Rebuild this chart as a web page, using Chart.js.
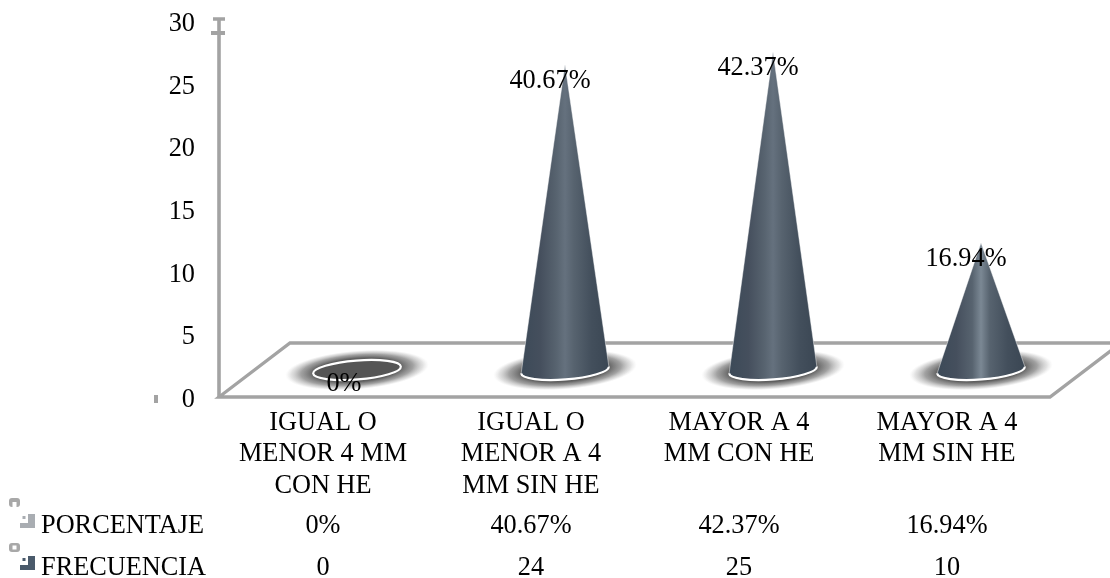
<!DOCTYPE html>
<html>
<head>
<meta charset="utf-8">
<style>
  html, body { margin: 0; padding: 0; background: #fff; }
  #wrap { width: 1110px; height: 578px; }
</style>
<script src="https://cdn.jsdelivr.net/npm/chart.js@4/dist/chart.umd.min.js"></script>
</head>
<body>
<div id="wrap"><canvas id="chart" width="1110" height="578"></canvas></div>
<script>
const categories = [
  ['IGUAL O', 'MENOR 4 MM', 'CON HE'],
  ['IGUAL O', 'MENOR A 4', 'MM SIN HE'],
  ['MAYOR A 4', 'MM CON HE'],
  ['MAYOR A 4', 'MM SIN HE']
];
const frecuencia = [0, 24, 25, 10];
const porcentaje = ['0%', '40.67%', '42.37%', '16.94%'];
const yTicks = [0, 5, 10, 15, 20, 25, 30];

const FONT = '"Liberation Serif", "Times New Roman", serif';
const TEXT_SIZE = 26.3;
const AXIS_GREY = '#a3a3a3';

// Oblique projection of the chart floor
const DEPTH_X = 71;
const DEPTH_Y = 54;
// Cones stand in the middle of the floor, on a plane with its own value scale
const CONE_SHIFT = 34;
const PLANE_ZERO_OFFSET = 27;
const PLANE_UNIT = 12.73;

const BASE_RX = 44;
const BASE_RY = 9.5;
const BASE_TILT = -4.5 * Math.PI / 180;

function drawFloor(ctx, area) {
  const { left, right, bottom } = area;
  ctx.save();
  ctx.strokeStyle = AXIS_GREY;
  ctx.lineWidth = 3.3;
  ctx.lineJoin = 'miter';
  ctx.beginPath();
  ctx.moveTo(left, bottom);
  ctx.lineTo(right - 1, bottom);
  ctx.lineTo(right - 1 + DEPTH_X, bottom - DEPTH_Y);
  ctx.lineTo(left + DEPTH_X, bottom - DEPTH_Y);
  ctx.closePath();
  ctx.stroke();
  ctx.restore();
}

function drawWallCaps(ctx, area) {
  // Short caps at the head of the vertical axis
  ctx.save();
  ctx.strokeStyle = AXIS_GREY;
  ctx.lineWidth = 3.6;
  ctx.beginPath();
  ctx.moveTo(area.left, area.bottom);
  ctx.lineTo(area.left, area.top - 2);
  ctx.moveTo(area.left - 6, area.top - 2);
  ctx.lineTo(area.left + 6, area.top - 2);
  ctx.stroke();
  ctx.lineWidth = 4;
  ctx.beginPath();
  ctx.moveTo(area.left - 8, area.top + 12);
  ctx.lineTo(area.left + 6, area.top + 12);
  ctx.stroke();
  ctx.fillStyle = AXIS_GREY;
  ctx.fillRect(area.left - 65, area.bottom - 2, 4, 8);
  ctx.restore();
}

function drawShadow(ctx, cx, cy) {
  ctx.save();
  ctx.translate(cx, cy);
  ctx.rotate(BASE_TILT);
  ctx.scale(1, 0.27);
  const g = ctx.createRadialGradient(0, 0, 0, 0, 0, 72);
  g.addColorStop(0, 'rgba(95,95,95,1)');
  g.addColorStop(0.6, 'rgba(95,95,95,1)');
  g.addColorStop(0.78, 'rgba(130,130,130,0.75)');
  g.addColorStop(0.92, 'rgba(175,175,175,0.35)');
  g.addColorStop(1, 'rgba(210,210,210,0)');
  ctx.fillStyle = g;
  ctx.beginPath();
  ctx.arc(0, 0, 72, 0, Math.PI * 2);
  ctx.fill();
  ctx.restore();
}

function drawCone(ctx, cx, cy, apexY, highlight) {
  const left = cx - BASE_RX, right = cx + BASE_RX;
  const g = ctx.createLinearGradient(left, 0, right, 0);
  g.addColorStop(0, '#3c4a58');
  g.addColorStop(0.22, '#454f5d');
  g.addColorStop(0.4, '#57636f');
  g.addColorStop(0.5, highlight);
  g.addColorStop(0.6, '#57636f');
  g.addColorStop(0.8, '#434f5c');
  g.addColorStop(1, '#3a4653');
  ctx.save();
  ctx.beginPath();
  ctx.moveTo(cx, apexY);
  ctx.ellipse(cx, cy, BASE_RX, BASE_RY, BASE_TILT, 0, Math.PI);
  ctx.closePath();
  ctx.fillStyle = g;
  ctx.fill();
  ctx.strokeStyle = 'rgba(255,255,255,0.55)';
  ctx.lineWidth = 0.8;
  ctx.stroke();
  ctx.strokeStyle = '#ffffff';
  ctx.lineWidth = 2.2;
  ctx.beginPath();
  ctx.ellipse(cx, cy, BASE_RX, BASE_RY, BASE_TILT, 0, Math.PI);
  ctx.stroke();
  ctx.restore();
}

function drawDisc(ctx, cx, cy) {
  ctx.save();
  ctx.beginPath();
  ctx.ellipse(cx, cy, BASE_RX, BASE_RY, BASE_TILT, 0, Math.PI * 2);
  ctx.fillStyle = '#555555';
  ctx.fill();
  ctx.strokeStyle = '#ffffff';
  ctx.lineWidth = 2.2;
  ctx.stroke();
  ctx.restore();
}

function drawLegendKey(ctx, x, y, colour, markerY, open) {
  // Series swatch: a stepped corner and a dot, with a small marker above and to the left
  ctx.save();
  ctx.fillStyle = colour;
  ctx.fillRect(x, y - 3, 15, 5);
  ctx.fillRect(x + 8, y - 12, 7, 11);
  ctx.fillRect(x + 2.5, y - 10, 3, 3);
  ctx.fillStyle = '#a8a8a8';
  ctx.beginPath();
  ctx.roundRect(x - 11, markerY, 11, 9, 3);
  ctx.fill();
  ctx.fillStyle = '#ffffff';
  if (open) ctx.fillRect(x - 7.5, markerY + 4, 4, 5);
  else ctx.fillRect(x - 7.5, markerY + 2.5, 4, 4);
  ctx.restore();
}

const conePlugin = {
  id: 'cones',
  beforeDatasetsDraw(chart) {
    const { ctx, chartArea } = chart;
    drawFloor(ctx, chartArea);
    drawWallCaps(ctx, chartArea);
    const meta = chart.getDatasetMeta(0);
    meta.data.forEach((bar) => drawShadow(ctx, bar.x + CONE_SHIFT, bar.base));
    meta.data.forEach((bar, i) => {
      const cx = bar.x + CONE_SHIFT;
      if (frecuencia[i] === 0) drawDisc(ctx, cx, bar.base);
      else drawCone(ctx, cx, bar.base, bar.y, frecuencia[i] < 15 ? '#7b8894' : '#65717e');
    });
  },
  afterDatasetsDraw(chart) {
    const { ctx } = chart;
    const meta = chart.getDatasetMeta(0);
    ctx.save();
    ctx.font = TEXT_SIZE + 'px ' + FONT;
    ctx.fillStyle = '#000000';
    ctx.textAlign = 'center';
    ctx.textBaseline = 'middle';
    // Value labels sit just below and left of each apex
    meta.data.forEach((bar, i) => {
      const zero = frecuencia[i] === 0;
      ctx.fillText(porcentaje[i], bar.x + CONE_SHIFT - (zero ? 13 : 15), bar.y + (zero ? 14 : 16.5));
    });
    // Data table beneath the category axis
    const rows = [
      { name: 'PORCENTAJE', cells: porcentaje, y: 526, key: '#a9adb2', markerY: 498, open: true },
      { name: 'FRECUENCIA', cells: frecuencia, y: 568, key: '#4a5a6b', markerY: 543, open: false }
    ];
    const xs = chart.scales.x;
    rows.forEach((row) => {
      ctx.textAlign = 'left';
      ctx.fillText(row.name, 41, row.y);
      ctx.textAlign = 'center';
      row.cells.forEach((c, i) => ctx.fillText(String(c), xs.getPixelForTick(i), row.y));
      drawLegendKey(ctx, 20, row.y, row.key, row.markerY, row.open);
    });
    ctx.restore();
  }
};

new Chart(document.getElementById('chart'), {
  type: 'bar',
  data: {
    labels: categories,
    datasets: [{
      label: 'FRECUENCIA',
      data: frecuencia,
      yAxisID: 'plane',
      backgroundColor: 'rgba(0,0,0,0)',
      borderWidth: 0
    }]
  },
  plugins: [conePlugin],
  options: {
    responsive: false,
    animation: false,
    layout: { padding: { top: 21, right: 59, bottom: 0, left: 0 } },
    plugins: { legend: { display: false }, tooltip: { enabled: false }, title: { display: false } },
    scales: {
      x: {
        grid: { display: false, drawTicks: false },
        border: { display: false },
        ticks: {
          autoRotate: false, maxRotation: 0, autoSkip: false, padding: 10,
          color: '#000000',
          font: { family: FONT, size: TEXT_SIZE, lineHeight: 1.2 }
        },
        afterFit(s) { s.height = 181; s.paddingLeft = 0; s.paddingRight = 0; }
      },
      y: {
        position: 'left',
        min: 0,
        max: 30,
        grid: { display: false, drawTicks: false },
        border: { display: false },
        afterBuildTicks(s) { s.ticks = yTicks.map((value) => ({ value })); },
        ticks: {
          padding: 24,
          labelOffset: 3,
          color: '#000000',
          font: { family: FONT, size: TEXT_SIZE }
        },
        afterFit(s) { s.width = 219; s.paddingTop = 0; s.paddingBottom = 0; }
      },
      plane: {
        display: false,
        min: -PLANE_ZERO_OFFSET / PLANE_UNIT,
        max: (376 - PLANE_ZERO_OFFSET) / PLANE_UNIT,
        afterFit(s) { s.paddingTop = 0; s.paddingBottom = 0; }
      }
    }
  }
});
</script>
</body>
</html>
